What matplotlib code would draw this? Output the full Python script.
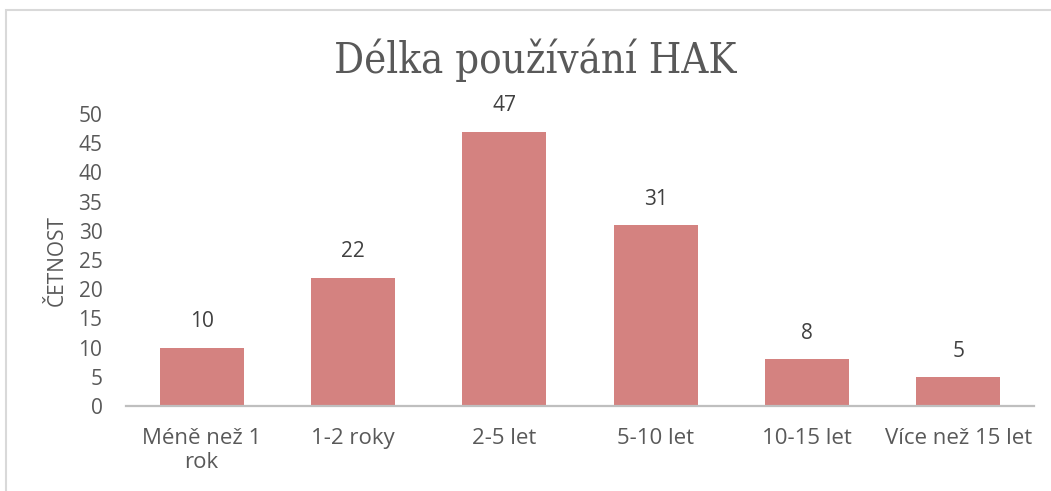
import matplotlib.pyplot as plt
from matplotlib.patches import Rectangle

# Données
categories = ['Méně než 1\nrok', '1-2 roky', '2-5 let', '5-10 let', '10-15 let', 'Více než 15 let']
values = [10, 22, 47, 31, 8, 5]
yticks = [0, 5, 10, 15, 20, 25, 30, 35, 40, 45, 50]

text_color = '#595959'
bar_color = '#D48280'

plt.rcParams['font.family'] = ['Open Sans', 'DejaVu Sans']

fig = plt.figure(figsize=(10.51, 4.91), dpi=100)
# cadre du graphique
fig.patches.append(Rectangle((6 / 1051, -0.1), 1.1, 1.1 - 10 / 491, transform=fig.transFigure,
                             fill=False, edgecolor='#D9D9D9', linewidth=1.5))

ax = fig.add_axes([126 / 1051, 85 / 491, 908 / 1051, 292 / 491])
x = range(len(categories))
bars = ax.bar(x, values, width=0.555, color=bar_color)

ax.set_xlim(-0.5, len(categories) - 0.5)
ax.set_ylim(0, 50)
ax.set_yticks(yticks)
ax.set_xticks(list(x))
ax.set_xticklabels(categories, linespacing=1.15)

for s in ['top', 'right', 'left']:
    ax.spines[s].set_visible(False)
ax.spines['bottom'].set_color('#BFBFBF')
ax.spines['bottom'].set_linewidth(1.6)

ax.tick_params(axis='both', length=0, labelcolor=text_color)
ax.tick_params(axis='y', pad=17, labelsize=15)
ax.tick_params(axis='x', pad=16, labelsize=16)

for b, v in zip(bars, values):
    ax.annotate(str(v), (b.get_x() + b.get_width() / 2, v), xytext=(0, 11),
                textcoords='offset points', ha='center', va='bottom',
                fontsize=15, color='#404040')

ax.set_ylabel('ČETNOST', fontsize=15, color=text_color, labelpad=8)

fig.text(535 / 1051, 1 - 60 / 491, 'Délka používání HAK', ha='center', va='center',
         fontsize=30, color=text_color, family=['DejaVu Serif', 'Liberation Serif'],
         fontstretch='condensed')

fig.savefig('out.png', dpi=100)
